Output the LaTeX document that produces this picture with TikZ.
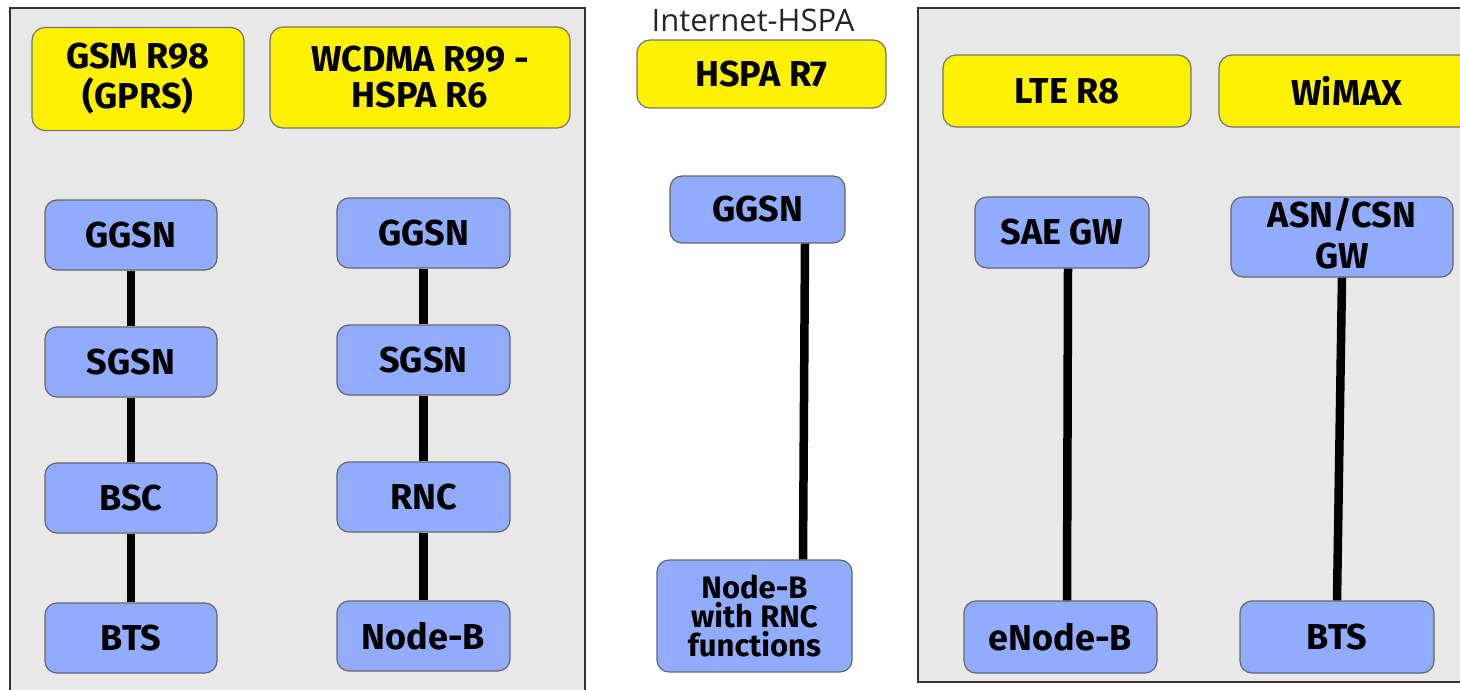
\documentclass[tikz,border=0pt]{standalone}
\usepackage{fontspec}
\setmainfont{Fira Sans}
\newfontfamily\labfont{Open Sans}
\begin{document}
\begin{tikzpicture}[x=1pt,y=-1pt,
  panel/.style={draw=black!80,fill=black!9,line width=1.5pt},
  relbox/.style={draw=black!55,fill=yellow,rounded corners=13pt,line width=1.2pt,
    align=center,inner sep=0pt,font=\fontsize{36}{36}\selectfont\bfseries},
  elem/.style={draw=black!60,fill=elemblue,rounded corners=12pt,line width=1.2pt,
    align=center,inner sep=0pt,font=\fontsize{36}{36}\selectfont\bfseries},
  link/.style={line width=8.5pt,black}]
\definecolor{elemblue}{HTML}{91ABFD}
\useasboundingbox (0,0) rectangle (1460,690);
\clip (0,0) rectangle (1460,690);
% panels
\draw[panel] (10,8) rectangle (585,720);
\draw[panel] (918,8) rectangle (1480,682);
% left panel
\node[relbox,minimum width=212pt,minimum height=103pt] (gsm) at (138,79) {GSM R98\\[4pt](GPRS)};
\node[relbox,minimum width=300pt,minimum height=101pt] (wcdma) at (420,77.5) {WCDMA R99 -\\HSPA R6};
\node[elem,minimum width=172pt,minimum height=70pt] (g1) at (131,235) {GGSN};
\node[elem,minimum width=172pt,minimum height=70pt] (s1) at (131,362) {SGSN};
\node[elem,minimum width=172pt,minimum height=70pt] (b1) at (131,498) {BSC};
\node[elem,minimum width=172pt,minimum height=70pt] (t1) at (131,638) {BTS};
\node[elem,minimum width=173pt,minimum height=70pt] (g2) at (423.5,233) {GGSN};
\node[elem,minimum width=173pt,minimum height=70pt] (s2) at (423.5,360) {SGSN};
\node[elem,minimum width=173pt,minimum height=70pt] (r2) at (423.5,497) {RNC};
\node[elem,minimum width=173pt,minimum height=70pt] (n2) at (423.5,636) {Node-B};
\draw[link] (g1) -- (s1);
\draw[link] (s1) -- (b1);
\draw[link] (b1) -- (t1);
\draw[link] (g2) -- (s2);
\draw[link] (s2) -- (r2);
\draw[link] (r2) -- (n2);
% middle
\node[font=\labfont\fontsize{31}{31}\selectfont,text=black!85] (ih) at (753,20) {Internet-HSPA};
\node[relbox,minimum width=249pt,minimum height=68pt] (hspa) at (761.5,74) {HSPA R7};
\node[elem,minimum width=175pt,minimum height=67pt] (g3) at (757.5,209.5) {GGSN};
\node[elem,minimum width=195pt,minimum height=112pt,font=\fontsize{31}{29}\selectfont\bfseries] (n3) at (754.5,616) {Node-B\\with RNC\\functions};
\draw[link] ([xshift=47.5pt]g3.south) -- ([xshift=48.5pt]n3.north);
% right panel
\node[relbox,minimum width=248pt,minimum height=72pt] (lte) at (1067,91) {LTE R8};
\node[relbox,minimum width=256pt,minimum height=72pt,text width=230pt] (wimax) at (1347,91) {WiMAX\hspace*{-10pt}};
\node[elem,minimum width=174pt,minimum height=71pt] (sae) at (1062,232.5) {SAE GW};
\node[elem,minimum width=222pt,minimum height=80pt] (asn) at (1342,237) {\raisebox{-3pt}[0pt][0pt]{\parbox{222pt}{\centering ASN/CSN\\[5pt]GW}}};
\node[elem,minimum width=193pt,minimum height=72pt] (enb) at (1060.5,637) {eNode-B};
\node[elem,minimum width=194pt,minimum height=72pt] (bts) at (1337,637) {BTS};
\draw[link] ([xshift=6pt]sae.south) -- ([xshift=6.5pt]enb.north);
\draw[link] (asn.south) -- (bts.north);
\end{tikzpicture}
\end{document}
